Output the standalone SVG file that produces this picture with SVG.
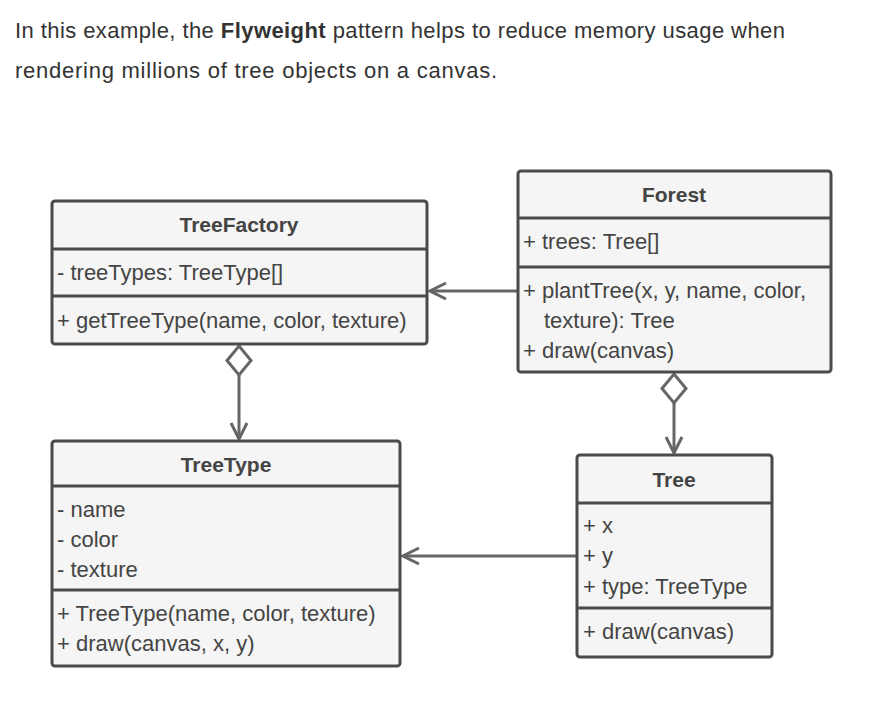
<svg xmlns="http://www.w3.org/2000/svg" width="882" height="717" viewBox="0 0 882 717">
<style>
.box{fill:#f5f5f5;stroke:#4a4a4a;stroke-width:3;}
.sep{stroke:#4a4a4a;stroke-width:3;}
.t{font-family:"Liberation Sans",Arial,sans-serif;font-size:22px;fill:#444;}
.h{font-family:"Liberation Sans",Arial,sans-serif;font-size:21px;font-weight:bold;fill:#444;text-anchor:middle;}
.intro{font-family:"Liberation Sans",Arial,sans-serif;font-size:22px;fill:#333;}
.line{stroke:#666;stroke-width:3;fill:none;}
.dia{stroke:#666;stroke-width:3;fill:#fff;}
</style>
<defs>
<marker id="open" viewBox="0 0 20 20" refX="18" refY="10" markerWidth="20" markerHeight="20" markerUnits="userSpaceOnUse" orient="auto">
<path d="M2,2 L18,10 L2,18" fill="none" stroke="#666" stroke-width="3"/>
</marker>
</defs>
<rect width="882" height="717" fill="#fff"/>
<text class="intro" x="15" y="38" textLength="770" lengthAdjust="spacing">In this example, the <tspan font-weight="bold">Flyweight</tspan> pattern helps to reduce memory usage when</text>
<text class="intro" x="15" y="78" textLength="482" lengthAdjust="spacing">rendering millions of tree objects on a canvas.</text>

<g id="connectors">
<line class="line" x1="518" y1="291" x2="430" y2="291" marker-end="url(#open)"/>
<line class="line" x1="577" y1="556" x2="403" y2="556" marker-end="url(#open)"/>
<line class="line" x1="239" y1="375" x2="239" y2="439" marker-end="url(#open)"/>
<path class="dia" d="M239,346 L251,360.5 L239,375 L227,360.5 Z"/>
<line class="line" x1="674" y1="403" x2="674" y2="453" marker-end="url(#open)"/>
<path class="dia" d="M674,374 L686,388.5 L674,403 L662,388.5 Z"/>
</g>

<g id="TreeFactory">
<rect class="box" x="52" y="201" width="375" height="143" rx="3"/>
<line class="sep" x1="52" y1="249" x2="427" y2="249"/>
<line class="sep" x1="52" y1="296" x2="427" y2="296"/>
<text class="h" x="239" y="232">TreeFactory</text>
<text class="t" x="57" y="280">- treeTypes: TreeType[]</text>
<text class="t" x="57" y="328">+ getTreeType(name, color, texture)</text>
</g>

<g id="Forest">
<rect class="box" x="518" y="171" width="313" height="201" rx="3"/>
<line class="sep" x1="518" y1="218" x2="831" y2="218"/>
<line class="sep" x1="518" y1="267" x2="831" y2="267"/>
<text class="h" x="674" y="202">Forest</text>
<text class="t" x="523" y="249">+ trees: Tree[]</text>
<text class="t" x="523" y="298">+ plantTree(x, y, name, color,</text>
<text class="t" x="544" y="328">texture): Tree</text>
<text class="t" x="523" y="358">+ draw(canvas)</text>
</g>

<g id="TreeType">
<rect class="box" x="52" y="441" width="348" height="225" rx="3"/>
<line class="sep" x1="52" y1="486" x2="400" y2="486"/>
<line class="sep" x1="52" y1="590" x2="400" y2="590"/>
<text class="h" x="226" y="472">TreeType</text>
<text class="t" x="57" y="517">- name</text>
<text class="t" x="57" y="547">- color</text>
<text class="t" x="57" y="577">- texture</text>
<text class="t" x="57" y="621">+ TreeType(name, color, texture)</text>
<text class="t" x="57" y="651">+ draw(canvas, x, y)</text>
</g>

<g id="Tree">
<rect class="box" x="577" y="455" width="195" height="202" rx="3"/>
<line class="sep" x1="577" y1="503" x2="772" y2="503"/>
<line class="sep" x1="577" y1="608" x2="772" y2="608"/>
<text class="h" x="674" y="487">Tree</text>
<text class="t" x="583" y="533">+ x</text>
<text class="t" x="583" y="563">+ y</text>
<text class="t" x="583" y="594">+ type: TreeType</text>
<text class="t" x="583" y="639">+ draw(canvas)</text>
</g>
</svg>
